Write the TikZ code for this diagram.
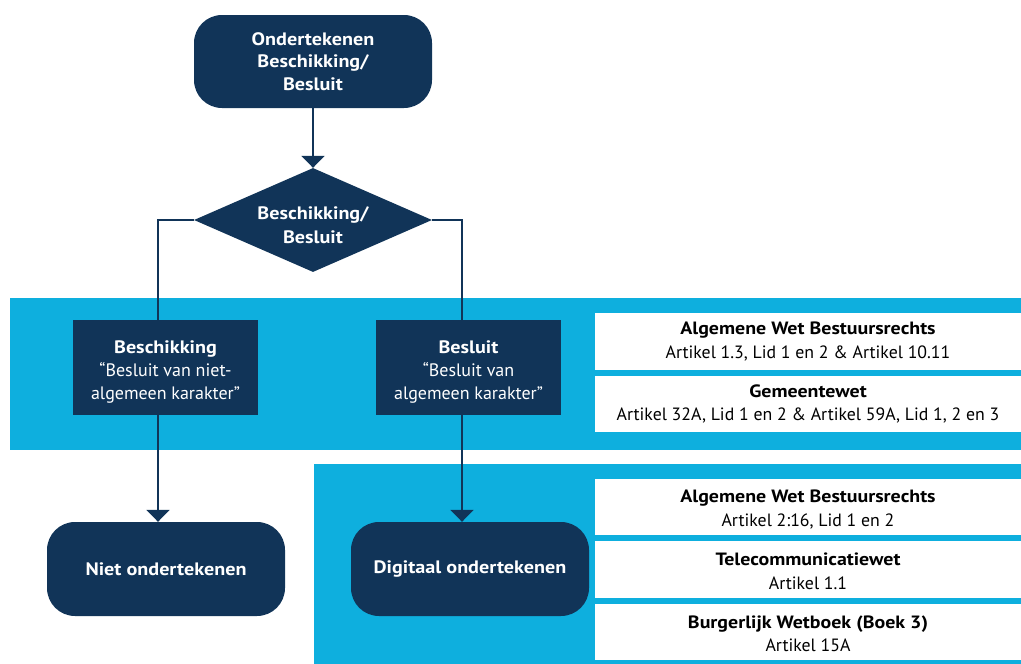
\documentclass[tikz,border=0pt]{standalone}
\usepackage{fontspec}
\setmainfont{PT Sans}[BoldFeatures={FakeStretch=1.12}]
\usetikzlibrary{shapes.geometric,arrows.meta}
\definecolor{navy}{RGB}{17,52,88}
\definecolor{band}{RGB}{14,175,222}
\tikzset{
  term/.style={fill=navy,rounded corners=28pt,minimum width=238pt,minimum height=94pt,text=white,font=\fontsize{18}{22.5}\selectfont\bfseries,align=center,inner sep=0pt},
  procbox/.style={fill=navy,minimum width=185pt,minimum height=95pt,inner sep=0pt},
  proctext/.style={text=white,font=\fontsize{18}{23}\selectfont,align=center,inner sep=0pt,yshift=-5pt},
  lawbox/.style={fill=white,minimum width=426pt,minimum height=56pt,inner sep=0pt},
  lawtext/.style={text=black,font=\fontsize{17.8}{23.5}\selectfont,align=center,inner sep=0pt},
  conn/.style={draw=navy,line width=2pt},
  arr/.style={conn,-{Triangle[width=23pt,length=12pt]}},
}
\begin{document}
\begin{tikzpicture}[x=1pt,y=-1pt]
\useasboundingbox (0,0) rectangle (1021,664);
% bands
\fill[band] (10,298) rectangle (1021,450);
\fill[band] (314,464) rectangle (1021,664);
% coordinates for vertical lines
\coordinate (cL) at (158,0);
\coordinate (cR) at (462,0);
% nodes
\node[term,minimum height=93pt] (top) at (313,61.5) {Ondertekenen\\Beschikking/\\Besluit};
\node[diamond,fill=navy,aspect=2.29,minimum width=238pt,minimum height=104pt,inner sep=0pt] (dia) at (313,220) {};
\node[text=white,font=\fontsize{18}{24}\selectfont\bfseries,align=center,inner sep=0pt] (diatxt) at (313,225) {Beschikking/\\Besluit};
\node[procbox,label={[proctext]center:{\textbf{Beschikking}\\\textquotedblleft Besluit van niet-\\algemeen karakter\textquotedblright}}] (besch) at (165.5,367.5) {};
\node[procbox,label={[proctext]center:{\textbf{Besluit}\\\textquotedblleft Besluit van\\algemeen karakter\textquotedblright}}] (besl) at (468.5,367.5) {};
\node[term] (niet) at (166,569) {Niet ondertekenen};
\node[term] (digi) at (470,569) {Digitaal ondertekenen};
% law boxes
\node[lawbox,minimum height=57pt,label={[lawtext]center:{\textbf{Algemene Wet Bestuursrechts}\\Artikel 1.3, Lid 1 en 2 \& Artikel 10.11}}] (w1) at (808,341.5) {};
\node[lawbox,label={[lawtext]center:{\textbf{Gemeentewet}\\Artikel 32A, Lid 1 en 2 \& Artikel 59A, Lid 1, 2 en 3}}] (w2) at (808,404) {};
\node[lawbox,label={[lawtext,yshift=-2.5pt]center:{\textbf{Algemene Wet Bestuursrechts}\\Artikel 2:16, Lid 1 en 2}}] (w3) at (808,507) {};
\node[lawbox,minimum height=57pt,label={[lawtext,yshift=-2pt]center:{\textbf{Telecommunicatiewet}\\Artikel 1.1}}] (w4) at (808,569.5) {};
\node[lawbox,label={[lawtext,yshift=-2pt]center:{\textbf{Burgerlijk Wetboek (Boek 3)}\\Artikel 15A}}] (w5) at (808,632) {};
% connectors
\draw[arr] (top.south) -- (dia.north);
\draw[conn] (dia.west) -| (cL |- besch.north);
\draw[conn] (dia.east) -| (cR |- besl.north);
\draw[arr] (cL |- besch.south) -- (cL |- niet.north);
\draw[arr] (cR |- besl.south) -- (cR |- digi.north);
\end{tikzpicture}
\end{document}
